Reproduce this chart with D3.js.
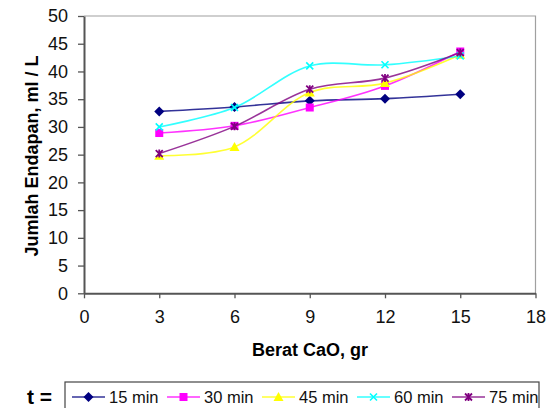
<!DOCTYPE html>
<html><head><meta charset="utf-8">
<script src="https://cdn.jsdelivr.net/npm/d3@7/dist/d3.min.js"></script>
<style>body{margin:0;background:#fff}svg{display:block;font-family:"Liberation Sans",Arial,sans-serif}</style>
</head><body><svg id="c" width="547" height="408"></svg>
<script>
const xValues = [3, 6, 9, 12, 15];
const seriesNames = ["15 min", "30 min", "45 min", "60 min", "75 min"];
const s15 = [32.8, 33.6, 34.7, 35.1, 35.9];
const s30 = [28.9, 30.2, 33.5, 37.4, 43.6];
const s45 = [24.8, 26.4, 36.2, 37.9, 43.0];
const s60 = [30.0, 33.5, 41.0, 41.2, 42.8];
const s75 = [25.2, 30.1, 36.8, 38.8, 43.4];
const xTicks = [0, 3, 6, 9, 12, 15, 18];
const yTicks = [0, 5, 10, 15, 20, 25, 30, 35, 40, 45, 50];
const colors = ["#000080", "#ff00ff", "#ffff00", "#00ffff", "#800080"];
const markers = ["diamond", "square", "triangle", "x", "star"];
const allSeries = [s15, s30, s45, s60, s75];

const svg = d3.select("#c");
const L = 84, R = 535.5, T = 16, B = 293.3;
const x = d3.scaleLinear().domain([0, 18]).range([L, R]);
const y = d3.scaleLinear().domain([0, 50]).range([B, T]);

svg.append("path").attr("d", `M${L},${T}H${R}V${B}`).attr("fill", "none").attr("stroke", "#a0a0a0").attr("stroke-width", 1.2);

const xa = svg.append("g").attr("transform", `translate(0,${B})`)
  .call(d3.axisBottom(x).tickValues(xTicks).tickSize(5).tickPadding(12).tickSizeOuter(0));
const ya = svg.append("g").attr("transform", `translate(${L},0)`)
  .call(d3.axisLeft(y).tickValues(yTicks).tickSize(6).tickPadding(10).tickSizeOuter(0));
[xa, ya].forEach(a => {
  a.select(".domain").attr("stroke", "#555").attr("stroke-width", 2);
  a.selectAll(".tick line").attr("stroke", "#555").attr("stroke-width", 1.3);
  a.selectAll("text").attr("font-size", 18).attr("fill", "#111").attr("font-family", "Liberation Sans, Arial, sans-serif");
});

function marker(g, type, color, cx, cy) {
  if (type === "diamond") g.append("path").attr("d", `M${cx},${cy-5}L${cx+5},${cy}L${cx},${cy+5}L${cx-5},${cy}Z`).attr("fill", color);
  else if (type === "square") g.append("rect").attr("x", cx-4).attr("y", cy-4).attr("width", 8).attr("height", 8).attr("fill", color);
  else if (type === "triangle") g.append("path").attr("d", `M${cx},${cy-5}L${cx+5},${cy+4}L${cx-5},${cy+4}Z`).attr("fill", color);
  else if (type === "x") g.append("path").attr("d", `M${cx-3.5},${cy-3.5}L${cx+3.5},${cy+3.5}M${cx+3.5},${cy-3.5}L${cx-3.5},${cy+3.5}`).attr("stroke", color).attr("stroke-width", 1.6);
  else if (type === "star") g.append("path").attr("d", `M${cx-3.5},${cy-3.5}L${cx+3.5},${cy+3.5}M${cx+3.5},${cy-3.5}L${cx-3.5},${cy+3.5}M${cx},${cy-4}V${cy+4}`).attr("stroke", color).attr("stroke-width", 1.8);
}

const line = d3.line().x(d => x(d[0])).y(d => y(d[1])).curve(d3.curveCatmullRom.alpha(0.5));
allSeries.forEach((s, i) => {
  const pts = xValues.map((v, j) => [v, s[j]]);
  const g = svg.append("g");
  g.append("path").attr("d", line(pts)).attr("fill", "none").attr("stroke", colors[i]).attr("stroke-width", 1.6).attr("stroke-opacity", 0.8);
  pts.forEach(p => marker(g, markers[i], colors[i], x(p[0]), y(p[1])));
});

svg.append("text").attr("x", 310).attr("y", 356).attr("text-anchor", "middle")
  .attr("font-size", 18).attr("font-weight", "bold").text("Berat CaO, gr");
svg.append("text").attr("transform", "translate(38,156) rotate(-90)").attr("text-anchor", "middle")
  .attr("font-size", 18).attr("font-weight", "bold").text("Jumlah Endapan, ml / L");

svg.append("text").attr("x", 27).attr("y", 404).attr("font-size", 21).attr("font-weight", "bold").text("t =");
svg.append("rect").attr("x", 65).attr("y", 382).attr("width", 474).attr("height", 32).attr("fill", "#fff").attr("stroke", "#444").attr("stroke-width", 1.2);
const legX = [72, 167, 262, 357, 452];
seriesNames.forEach((n, i) => {
  const g = svg.append("g");
  const lx = legX[i], ly = 397;
  g.append("line").attr("x1", lx).attr("x2", lx + 33).attr("y1", ly).attr("y2", ly).attr("stroke", colors[i]).attr("stroke-width", 1.6).attr("stroke-opacity", 0.8);
  marker(g, markers[i], colors[i], lx + 16.5, ly);
  g.append("text").attr("x", lx + 37).attr("y", ly + 6).attr("font-size", 16.5).attr("fill", "#111").text(n);
});
</script></body></html>
